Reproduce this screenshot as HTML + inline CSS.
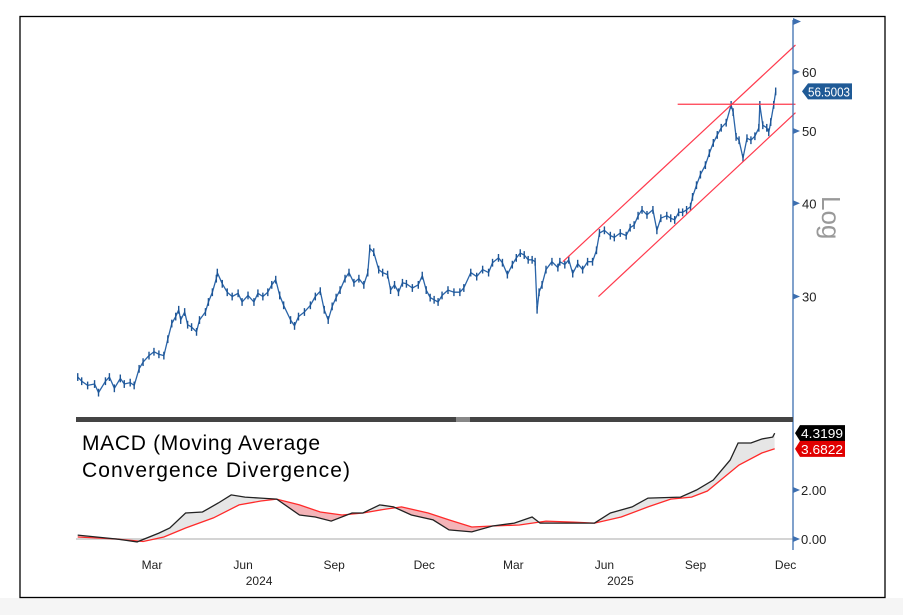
<!DOCTYPE html>
<html><head><meta charset="utf-8"><style>
html,body{margin:0;padding:0;background:#fff;}
svg{display:block;font-family:"Liberation Sans",sans-serif;}
</style></head><body>
<svg id="chart" width="903" height="615" viewBox="0 0 903 615">
<rect x="0" y="598" width="903" height="17" fill="#f5f5f5"/>
<rect x="20" y="16.5" width="865" height="581" fill="#fff" stroke="#000" stroke-width="1.3"/>
<g id="price"></g>
<g id="macd"></g>
<g id="axes"></g>
</svg>
<script>
// ---- price data (day index: days since 2024-01-01) ----
const priceDays=[-13,-9,-3,4,8,15,19,24,30,34,40,44,49,53,59,64,69,74,78,82,86,89,91,95,98,102,107,110,116,119,123,127,128,133,138,143,149,153,159,165,169,174,179,183,187,191,195,202,206,210,216,222,227,232,236,240,244,248,252,257,261,266,271,276,280,282,286,291,295,300,303,307,311,315,319,325,331,335,339,343,347,351,355,361,367,373,377,384,390,396,402,406,412,416,421,426,430,434,438,442,446,449,451,453,456,460,466,472,474,479,483,487,492,497,502,507,511,514,519,525,529,535,541,545,549,553,557,562,568,572,576,582,586,590,594,598,602,606,608,612,616,621,625,629,633,637,642,647,649,652,655,659,663,667,671,675,676,679,683,685,687,690,692];
const priceCloses=[23.4,23.1,22.8,22.9,22.3,23.1,23.4,22.6,23.3,22.9,23.0,22.8,24.0,24.5,25.0,25.3,25.1,25.0,26.3,27.6,28.2,28.8,27.9,28.6,27.5,27.3,26.9,27.9,28.6,29.5,30.4,31.7,32.3,31.2,30.4,30.0,30.3,29.5,30.1,29.5,30.3,30.0,30.4,31.1,31.6,30.1,29.2,27.9,27.4,28.2,28.6,29.2,30.0,30.5,28.8,27.9,29.1,29.9,30.6,31.7,32.3,31.3,31.7,31.1,32.3,34.8,34.4,32.6,32.3,32.1,30.6,31.1,30.4,31.3,31.2,30.8,31.1,32.0,30.6,29.9,29.7,29.5,30.1,30.6,30.4,30.4,30.8,32.3,31.9,32.6,32.3,33.3,33.8,33.3,32.1,33.1,33.8,34.3,34.1,33.6,33.6,33.4,28.8,30.4,31.1,32.6,33.4,32.8,33.4,33.1,33.6,32.2,33.2,32.6,33.4,33.4,34.6,36.5,36.8,36.2,36.0,36.5,36.2,37.1,37.4,38.5,39.2,38.6,39.2,36.8,38.2,38.5,38.2,38.0,38.9,38.9,39.2,39.6,40.8,42.3,43.7,45.0,46.7,48.2,49.4,50.5,51.3,54.2,53.0,49.1,48.6,46.0,48.9,48.6,49.2,50.5,54.2,50.9,50.5,49.8,51.4,54.2,56.5];
const priceTicks=[60,50,40,30];
const lastPriceLabel="56.5003";
// trend channel annotations [day, price]
const channelUpper=[[477,33.4],[712,65.2]];
const channelLower=[[513,30.0],[712,52.9]];
const resistance=[[593,54.3],[712,54.3]];
// ---- MACD data ----
const macdDays=[-13,26,47,69,80,96,113,129,142,156,172,188,211,227,243,264,275,292,306,324,346,362,385,406,428,446,454,471,509,525,547,563,596,612,629,646,654,667,678,689,691];
const macdValues=[0.16,0,-0.12,0.24,0.45,1.06,1.1,1.47,1.8,1.71,1.67,1.63,0.98,0.9,0.73,1.06,1.06,1.39,1.31,0.98,0.78,0.37,0.29,0.53,0.65,0.9,0.65,0.65,0.65,1.06,1.31,1.67,1.71,2.0,2.41,3.22,3.92,3.92,4.08,4.16,4.32];
const signalDays=[-13,26,53,74,96,124,150,172,188,211,232,254,275,298,314,341,362,385,406,433,460,488,509,536,563,586,607,623,639,655,678,691];
const signalValues=[0.08,0,-0.1,0.08,0.45,0.86,1.39,1.55,1.63,1.39,1.1,0.98,1.06,1.22,1.31,1.06,0.78,0.49,0.53,0.57,0.73,0.69,0.65,0.9,1.31,1.63,1.71,1.96,2.49,3.02,3.51,3.68];
const macdTicks=[2,0];
const macdTickLabels=["2.00","0.00"];
const macdLastLabel="4.3199", signalLastLabel="3.6822";
const monthTickDays=[60,152,244,335,425,517,609,700];
const monthTickLabels=["Mar","Jun","Sep","Dec","Mar","Jun","Sep","Dec"];
const yearDays=[152,517];
const yearLabels=["2024","2025"];

const NS="http://www.w3.org/2000/svg";
const X=d=>148+(d-60)*0.99+2;
const YP=p=>131-324*Math.log(p/50);
const YM=v=>539-24.5*v;
function mk(tag,attrs,parent){const e=document.createElementNS(NS,tag);for(const k in attrs)e.setAttribute(k,attrs[k]);parent.appendChild(e);return e;}
const P=document.getElementById('price'),M=document.getElementById('macd'),A=document.getElementById('axes');

// price series
let d='';priceDays.forEach((dy,i)=>{d+=(i?'L':'M')+X(dy).toFixed(1)+' '+YP(priceCloses[i]).toFixed(1);});
let pl=mk('path',{d:d,fill:'none',stroke:'#2a64a8','stroke-width':1.3,'stroke-linejoin':'round'},P);


priceDays.forEach((dy,i)=>{
  const b=mk('line',{x1:X(dy),x2:X(dy),y1:YP(priceCloses[i]*1.012),y2:YP(priceCloses[i]*0.988),stroke:'#1d5596','stroke-width':1.4},P);
  
  
});
function seg(pts,name){const l=mk('line',{x1:X(pts[0][0]),y1:YP(pts[0][1]),x2:X(pts[1][0]),y2:YP(pts[1][1]),stroke:'#ff3b4e','stroke-width':1.2},P);
  
  }
seg(channelUpper,'channel-upper');seg(channelLower,'channel-lower');seg(resistance,'resistance-line');

// price axis
mk('line',{x1:793,y1:20,x2:793,y2:550,stroke:'#3d6fb0','stroke-width':1.3},A);
mk('path',{d:'M793 18 L801 21.5 L793 25 Z',fill:'#3d6fb0'},A);
priceTicks.forEach(t=>{const y=YP(t);mk('path',{d:`M793 ${y-3} L800 ${y} L793 ${y+3} Z`,fill:'#3d6fb0'},A);
  const tx=mk('text',{x:802,y:y+5,'font-size':13,fill:'#222'},A);tx.textContent=t;
  
  });
const ly=YP(56.5);
mk('path',{d:`M802 ${ly} L808 ${ly-8} L852 ${ly-8} L852 ${ly+8} L808 ${ly+8} Z`,fill:'#1f5a96'},A);
const lp=mk('text',{x:808,y:ly+5,'font-size':13,fill:'#fff',textLength:42,lengthAdjust:'spacingAndGlyphs'},A);lp.textContent=lastPriceLabel;


const lg=mk('text',{x:0,y:0,'font-size':26,fill:'#999',transform:'translate(822,196) rotate(90)'},A);lg.textContent='Log';



// divider
mk('rect',{x:76,y:417,width:717,height:5,fill:'#444'},A);
mk('rect',{x:456,y:417,width:14,height:5,fill:'#888'},A);

// MACD
mk('line',{x1:76,y1:YM(0),x2:793,y2:YM(0),stroke:'#d4d4d4','stroke-width':2},M);
const mpts=macdDays.map((dy,i)=>[X(dy),YM(macdValues[i])]);
const spts=signalDays.map((dy,i)=>[X(dy),YM(signalValues[i])]);
const ptsStr=a=>a.map(p=>p[0].toFixed(1)+','+p[1].toFixed(1)).join(' ');
const defs=mk('defs',{},M);
const x0=X(signalDays[0]),x1=X(signalDays[signalDays.length-1]);
const cA=mk('clipPath',{id:'above'},defs);mk('polygon',{points:ptsStr(spts)+` ${x1},400 ${x0},400`},cA);
const cB=mk('clipPath',{id:'below'},defs);mk('polygon',{points:ptsStr(spts)+` ${x1},600 ${x0},600`},cB);
const band=ptsStr(mpts)+' '+ptsStr(spts.slice().reverse());
const fg=mk('polygon',{points:band,fill:'#e6e6e6','clip-path':'url(#above)'},M);


const fp=mk('polygon',{points:band,fill:'#f4b4b8','clip-path':'url(#below)'},M);


const sl=mk('polyline',{points:ptsStr(spts),fill:'none',stroke:'#ff2a2a','stroke-width':1.3},M);


const ml=mk('polyline',{points:ptsStr(mpts),fill:'none',stroke:'#222','stroke-width':1.3},M);


macdTicks.forEach((t,i)=>{const y=YM(t);mk('path',{d:`M793 ${y-3} L800 ${y} L793 ${y+3} Z`,fill:'#3d6fb0'},A);
  const tx=mk('text',{x:801,y:y+5,'font-size':13,fill:'#222'},A);tx.textContent=macdTickLabels[i];
  
  });
function box(v,label,bg,name){const y=YM(v);mk('path',{d:`M795 ${y} L800 ${y-8} L845 ${y-8} L845 ${y+8} L800 ${y+8} Z`,fill:bg},A);
  const t=mk('text',{x:801,y:y+5,'font-size':13,fill:'#fff',textLength:42,lengthAdjust:'spacingAndGlyphs'},A);t.textContent=label;
  
  }
box(4.32,macdLastLabel,'#000','macd-last-label');box(3.68,signalLastLabel,'#e00000','signal-last-label');
const t1=mk('text',{x:82,y:450,'font-size':21,fill:'#000',textLength:238},A);t1.textContent='MACD (Moving Average';


const t2=mk('text',{x:82,y:477,'font-size':21,fill:'#000',textLength:268},A);t2.textContent='Convergence Divergence)';



// x axis labels
monthTickDays.forEach((dy,i)=>{const t=mk('text',{x:X(dy)+2,y:569,'font-size':12,fill:'#222','text-anchor':'middle'},A);t.textContent=monthTickLabels[i];
  
  });
yearDays.forEach((dy,i)=>{const t=mk('text',{x:X(dy)+18,y:585,'font-size':12,fill:'#222','text-anchor':'middle'},A);t.textContent=yearLabels[i];
  
  });
</script>
</body></html>
